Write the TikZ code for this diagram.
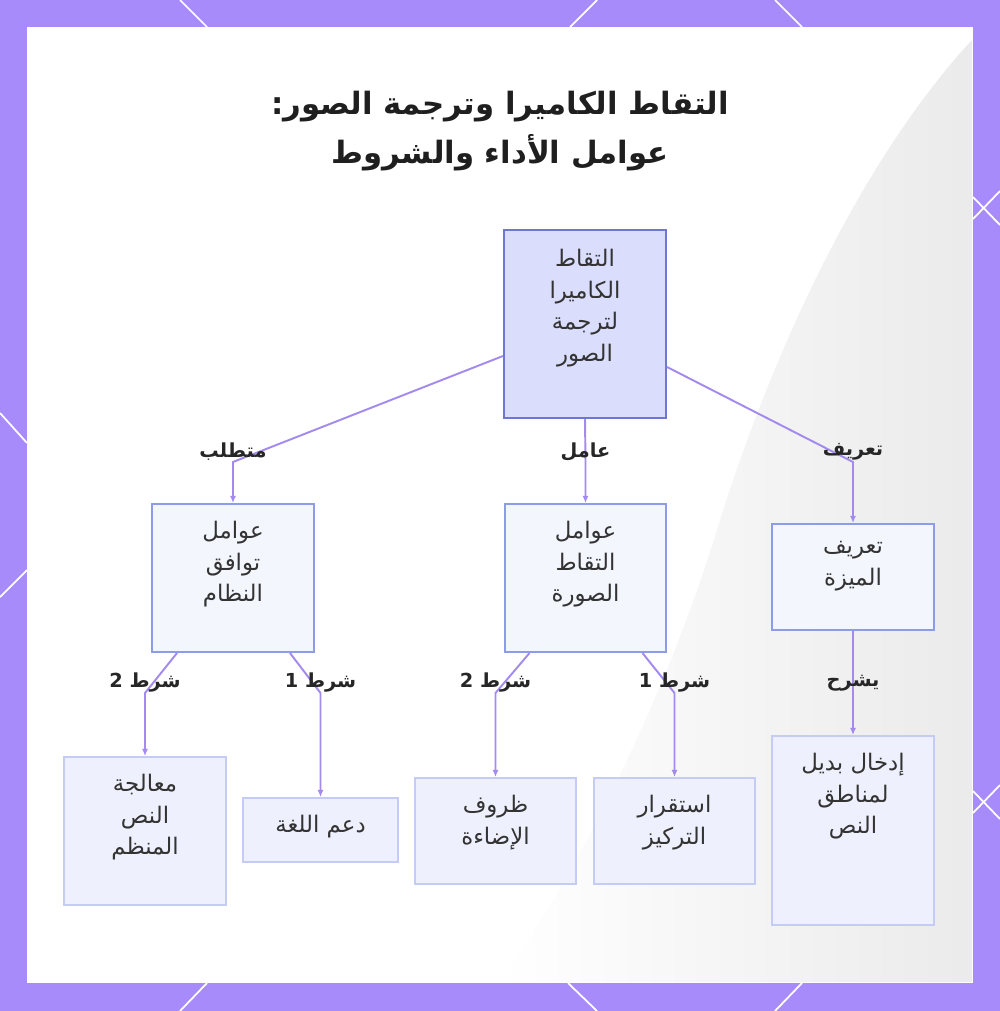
\documentclass[tikz,border=0pt]{standalone}
\usepackage{fontspec}
\TeXXeTstate=1
\newfontfamily\arabicfont[Script=Arabic]{DejaVu Sans}
\newcommand{\artxt}[1]{{\arabicfont\beginR #1\endR}}
\usetikzlibrary{arrows.meta,calc}
\definecolor{framepurple}{RGB}{167,139,250}
\definecolor{linkpurple}{RGB}{163,138,238}
\definecolor{rootfill}{RGB}{218,221,252}
\definecolor{rootdraw}{RGB}{112,118,212}
\definecolor{midfill}{RGB}{244,246,254}
\definecolor{middraw}{RGB}{140,156,232}
\definecolor{leaffill}{RGB}{238,241,253}
\definecolor{leafdraw}{RGB}{196,204,245}
\definecolor{inktext}{RGB}{51,51,51}
\tikzset{
  >={Latex[length=4pt,width=3.5pt]},
  box/.style = {rectangle, inner sep=0pt, line width=1.2pt},
  rootbox/.style = {box, fill=rootfill, draw=rootdraw},
  midbox/.style = {box, fill=midfill, draw=middraw},
  leafbox/.style = {box, fill=leaffill, draw=leafdraw},
  txt/.style = {anchor=north, inner sep=0pt, align=center, text=inktext,
    font=\fontsize{13}{17.9}\selectfont},
  link/.style = {->, draw=linkpurple, line width=1.1pt},
  lbl/.style = {inner sep=0pt, yshift=0.2cm, text=black!85,
    font=\fontsize{11}{12}\selectfont\bfseries},
  deco/.style = {white, line width=1pt}
}

\begin{document}
\begin{tikzpicture}[x=0.02cm,y=-0.02cm]
  \useasboundingbox (0,0) rectangle (1000,1011);
  % frame
  \fill[framepurple] (0,0) rectangle (1000,1011);
  \fill[white] (27,27) rectangle (973,983);
  \draw[deco] (180,0) -- (207,27) (597,0) -- (570,27) (775,0) -- (802,27);
  \draw[deco] (207,983) -- (180,1011) (568,983) -- (597,1011) (802,983) -- (775,1011);
  \draw[deco] (0,413) -- (27,443) (27,570) -- (0,597);
  \draw[deco] (973,197) -- (1000,225) (973,219) -- (1000,191);
  \draw[deco] (973,791) -- (1000,819) (973,813) -- (1000,785);
  % faint background
  \shade[left color=white, right color=black!8]
    (972,40) .. controls (870,150) and (780,330) .. (720,520)
    .. controls (660,720) and (560,900) .. (500,982) -- (972,982) -- cycle;

  % title
  \node[align=center, text=black!88, font=\fontsize{17.5}{28}\selectfont\bfseries] (title) at (500,131)
    {\artxt{التقاط الكاميرا وترجمة الصور:}\\ \artxt{عوامل الأداء والشروط}};

  % boxes
  \node[rootbox, minimum width=3.24cm, minimum height=3.76cm] (root) at (585,324) {};
  \node[midbox, minimum width=3.24cm, minimum height=2.96cm] (sys) at (233,578) {};
  \node[midbox, minimum width=3.22cm, minimum height=2.96cm] (cap) at (585.5,578) {};
  \node[midbox, minimum width=3.24cm, minimum height=2.12cm] (feat) at (853,577) {};
  \node[leafbox, minimum width=3.24cm, minimum height=2.96cm] (proc) at (145,831) {};
  \node[leafbox, minimum width=3.10cm, minimum height=1.28cm] (lang) at (320.5,830) {};
  \node[leafbox, minimum width=3.22cm, minimum height=2.12cm] (light) at (495.5,831) {};
  \node[leafbox, minimum width=3.22cm, minimum height=2.12cm] (focus) at (674.5,831) {};
  \node[leafbox, minimum width=3.24cm, minimum height=3.78cm] (alt) at (853,830.5) {};

  % box texts
  \node[txt] at ($(root.north)+(0,20)$) {\artxt{التقاط}\\ \artxt{الكاميرا}\\ \artxt{لترجمة}\\ \artxt{الصور}};
  \node[txt] at ($(sys.north)+(0,18)$) {\artxt{عوامل}\\ \artxt{توافق}\\ \artxt{النظام}};
  \node[txt] at ($(cap.north)+(0,18)$) {\artxt{عوامل}\\ \artxt{التقاط}\\ \artxt{الصورة}};
  \node[txt] at ($(feat.north)+(0,18)$) {\artxt{تعريف}\\ \artxt{الميزة}};
  \node[txt] at ($(proc.north)+(0,18)$) {\artxt{معالجة}\\ \artxt{النص}\\ \artxt{المنظم}};
  \node[txt] at ($(lang.north)+(0,18)$) {\artxt{دعم اللغة}};
  \node[txt] at ($(light.north)+(0,18)$) {\artxt{ظروف}\\ \artxt{الإضاءة}};
  \node[txt] at ($(focus.north)+(0,18)$) {\artxt{استقرار}\\ \artxt{التركيز}};
  \node[txt] at ($(alt.north)+(0,18)$) {\artxt{إدخال بديل}\\ \artxt{لمناطق}\\ \artxt{النص}};

  % connectors
  \draw[link] ($(root.west)+(0,32)$) -- (sys.north |- 0,462) node[lbl] {\artxt{متطلب}} -- (sys.north);
  \draw[link] (root.south) -- (cap.north |- 0,462) node[lbl] {\artxt{عامل}} -- (cap.north);
  \draw[link] ($(root.east)+(0,43)$) -- (feat.north |- 0,462) node[lbl] {\artxt{تعريف}} -- (feat.north);
  \draw[link] ($(sys.south)+(-56,0)$) -- (proc.north |- 0,693) node[lbl] {\artxt{شرط 2}} -- (proc.north);
  \draw[link] ($(sys.south)+(57,0)$) -- (lang.north |- 0,693) node[lbl] {\artxt{شرط 1}} -- (lang.north);
  \draw[link] ($(cap.south)+(-56,0)$) -- (light.north |- 0,693) node[lbl] {\artxt{شرط 2}} -- (light.north);
  \draw[link] ($(cap.south)+(57,0)$) -- (focus.north |- 0,693) node[lbl] {\artxt{شرط 1}} -- (focus.north);
  \draw[link] (feat.south) -- (alt.north |- 0,693) node[lbl] {\artxt{يشرح}} -- (alt.north);
\end{tikzpicture}
\end{document}
